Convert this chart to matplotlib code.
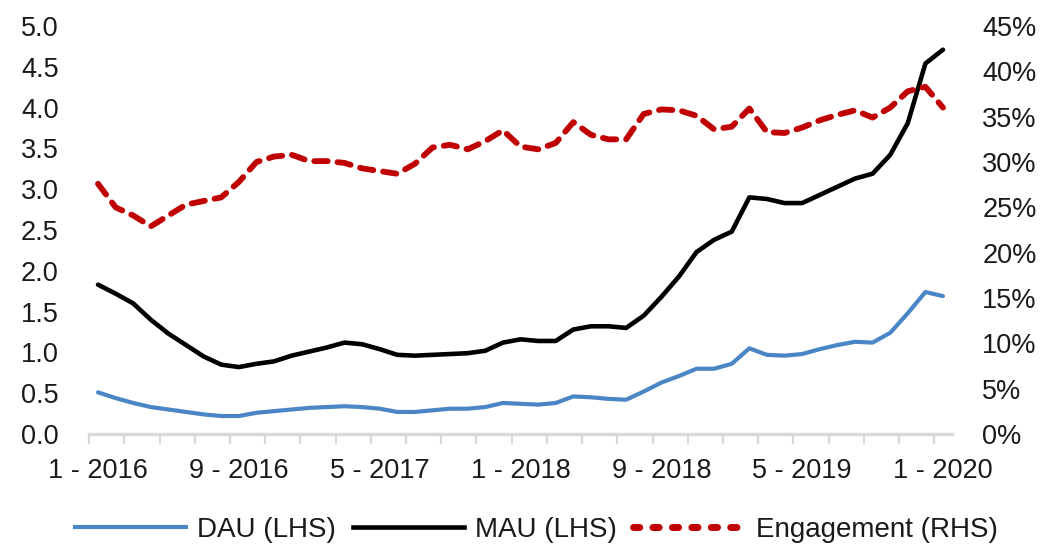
import numpy as np
import matplotlib
matplotlib.use("Agg")
import matplotlib.pyplot as plt
from matplotlib.lines import Line2D

plt.rcParams['font.family'] = ['Liberation Sans', 'DejaVu Sans']

# ---- data (monthly, Jan 2016 - Jan 2020) ----
dau = [0.51, 0.44, 0.38, 0.33, 0.30, 0.27, 0.24, 0.22, 0.22, 0.26,
       0.28, 0.30, 0.32, 0.33, 0.34, 0.33, 0.31, 0.27, 0.27, 0.29,
       0.31, 0.31, 0.33, 0.38, 0.37, 0.36, 0.38, 0.46, 0.45, 0.43,
       0.42, 0.52, 0.63, 0.71, 0.80, 0.80, 0.86, 1.05, 0.97, 0.96,
       0.98, 1.04, 1.09, 1.13, 1.12, 1.24, 1.48, 1.74, 1.69]
mau = [1.83, 1.72, 1.60, 1.40, 1.23, 1.09, 0.95, 0.85, 0.82, 0.86,
       0.89, 0.96, 1.01, 1.06, 1.12, 1.10, 1.04, 0.97, 0.96, 0.97,
       0.98, 0.99, 1.02, 1.12, 1.16, 1.14, 1.14, 1.28, 1.32, 1.32,
       1.30, 1.45, 1.68, 1.93, 2.23, 2.38, 2.48, 2.90, 2.88, 2.83,
       2.83, 2.93, 3.03, 3.13, 3.19, 3.42, 3.81, 4.54, 4.71]
engagement = [27.6, 25.0, 24.1, 22.9, 24.1, 25.3, 25.7, 26.1, 27.8, 30.0,
              30.6, 30.8, 30.1, 30.1, 29.9, 29.3, 29.0, 28.7, 29.8, 31.6,
              31.9, 31.4, 32.3, 33.5, 31.7, 31.4, 32.1, 34.4, 33.0, 32.5,
              32.5, 35.3, 35.8, 35.7, 35.1, 33.6, 33.9, 35.9, 33.3, 33.2,
              33.8, 34.6, 35.2, 35.7, 34.9, 36.0, 37.8, 38.3, 36.0]
x_labels = ['1 - 2016', '9 - 2016', '5 - 2017', '1 - 2018', '9 - 2018', '5 - 2019', '1 - 2020']
x_label_idx = [0, 8, 16, 24, 32, 40, 48]
left_ticks = [0.0, 0.5, 1.0, 1.5, 2.0, 2.5, 3.0, 3.5, 4.0, 4.5, 5.0]
right_ticks = [0, 5, 10, 15, 20, 25, 30, 35, 40, 45]
series_names = ['DAU (LHS)', 'MAU (LHS)', 'Engagement (RHS)']

BLUE = '#4A86C5'
RED = '#C00000'
GRID = '#D9D9D9'
TXT = '#1A1A1A'
FS = 19.5

fig = plt.figure(figsize=(10.41, 5.49), dpi=100)
ax = fig.add_axes([0.0857, 0.2095, 0.8286, 0.7431])
ax2 = ax.twinx()

x = np.arange(len(dau))
ax.plot(x, dau, color=BLUE, lw=3.0, solid_joinstyle='round', solid_capstyle='round', zorder=3)
ax.plot(x, mau, color='black', lw=3.3, solid_joinstyle='round', solid_capstyle='round', zorder=3)
ax2.plot(x, engagement, color=RED, lw=4.2, dashes=(2.3, 1.7), dash_capstyle='round',
         dash_joinstyle='round', zorder=3)

ax.set_xlim(-0.5, len(dau) - 0.5)
ax.set_ylim(0, 5)
ax2.set_ylim(0, 45)

ax.set_yticks(left_ticks)
ax.set_yticklabels([f'{v:.1f}' for v in left_ticks])
ax2.set_yticks(right_ticks)
ax2.set_yticklabels([f'{v}%' for v in right_ticks])

ax.set_xticks(x_label_idx)
ax.set_xticklabels(x_labels)
ax.set_xticks(np.arange(-0.5, len(dau) - 1, 2), minor=True)

for a in (ax, ax2):
    for s in a.spines.values():
        s.set_visible(False)
ax.spines['bottom'].set_visible(True)
ax.spines['bottom'].set_color(GRID)
ax.spines['bottom'].set_linewidth(2.5)

ax.tick_params(axis='y', length=0, pad=22, labelsize=FS, labelcolor=TXT)
ax2.tick_params(axis='y', length=0, pad=22, labelsize=FS, labelcolor=TXT)
ax.tick_params(axis='x', which='major', length=0, pad=17, labelsize=FS, labelcolor=TXT)
ax.tick_params(axis='x', which='minor', length=7, width=1.6, color=GRID, direction='out')

handles = [Line2D([], [], color=BLUE, lw=3.0),
           Line2D([], [], color='black', lw=3.3),
           Line2D([], [], color=RED, lw=5, dashes=(0.9, 1.9), dash_capstyle='round')]
fig.legend(handles, series_names, loc='center', bbox_to_anchor=(0.515, 0.035), ncol=3,
           frameon=False, handlelength=4.0, handletextpad=0.4, columnspacing=0.6,
           fontsize=20, labelcolor=TXT)

fig.savefig('out.png', dpi=100)
